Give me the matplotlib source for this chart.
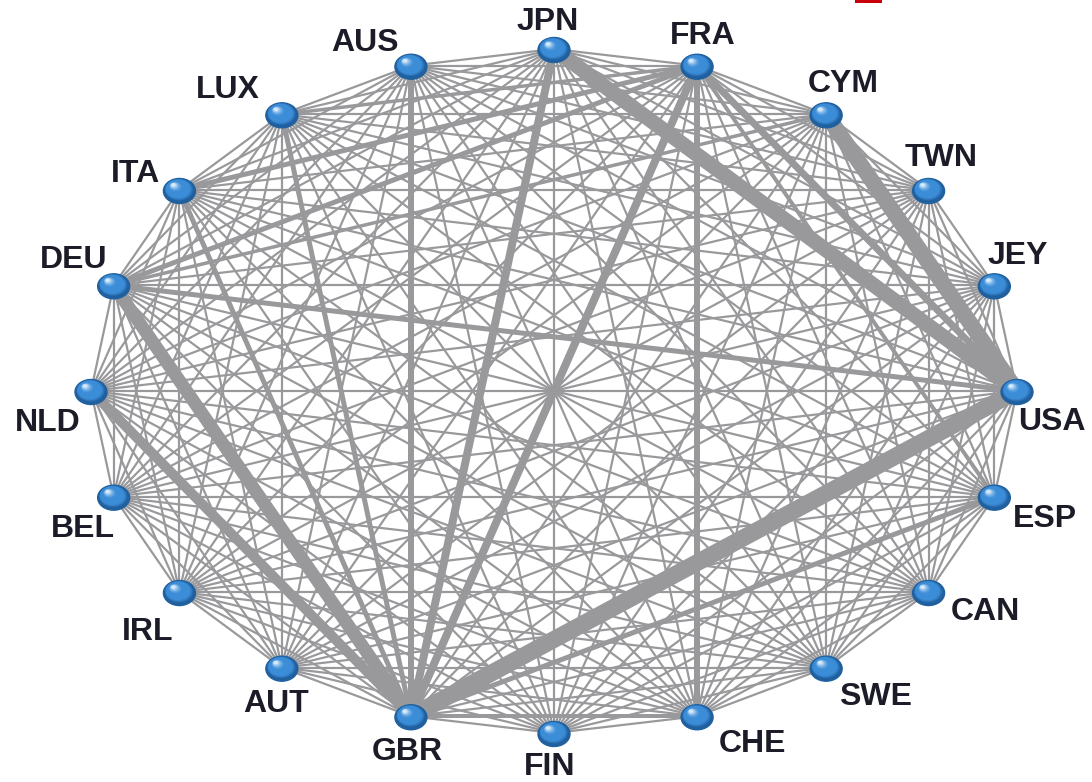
import numpy as np
import matplotlib.pyplot as plt
from matplotlib.patches import Ellipse, Rectangle
from matplotlib.colors import to_rgb

# nodes, counter-clockwise starting from the top
countries = ["JPN", "AUS", "LUX", "ITA", "DEU", "NLD", "BEL", "IRL", "AUT", "GBR",
             "FIN", "CHE", "SWE", "CAN", "ESP", "USA", "JEY", "TWN", "CYM", "FRA"]

# weighted links (edge width in px); every other pair gets the base width
heavy_links = [
    ("GBR", "USA", 17), ("JPN", "USA", 15), ("CYM", "USA", 16),
    ("GBR", "DEU", 13), ("GBR", "NLD", 10), ("GBR", "JPN", 8),
    ("GBR", "FRA", 8), ("FRA", "USA", 7), ("GBR", "AUS", 6),
    ("FRA", "CHE", 6), ("GBR", "LUX", 5), ("GBR", "ITA", 5),
    ("FRA", "ITA", 5), ("FRA", "DEU", 5), ("DEU", "USA", 5),
    ("GBR", "ESP", 5), ("GBR", "CHE", 4), ("FRA", "ESP", 4),
    ("DEU", "CYM", 3.5), ("LUX", "FRA", 3.5),
]
base_width = 2.2

# label offsets from the node centre, px
label_off = {
    "JPN": (-6, -27), "AUS": (-46, -23), "LUX": (-54, -24), "ITA": (-44, -16),
    "DEU": (-40, -25), "NLD": (-43, 32), "BEL": (-31, 32), "IRL": (-32, 40),
    "AUT": (-6, 36), "GBR": (-4, 36), "FIN": (-4, 34), "CHE": (55, 28),
    "SWE": (49, 29), "CAN": (57, 20), "ESP": (51, 22), "USA": (35, 31),
    "JEY": (23, -29), "TWN": (13, -32), "CYM": (17, -30), "FRA": (6, -30),
}

W, H = 1092, 782
fig = plt.figure(figsize=(W / 100, H / 100), dpi=100)
ax = fig.add_axes([0, 0, 1, 1])
ax.set_xlim(0, W)
ax.set_ylim(H, 0)
ax.axis("off")

# circular layout squeezed into an ellipse
cx, cy, rx, ry = 554, 391, 463, 342
ang = np.deg2rad(90 + 18 * np.arange(len(countries)))
pos = {c: (cx + rx * np.cos(a), cy - ry * np.sin(a)) for c, a in zip(countries, ang)}

px = 0.72  # px -> points at 100 dpi
edge_col = "#99999c"

weights = {frozenset((a, b)): w for a, b, w in heavy_links}
pairs = []
for i in range(len(countries)):
    for j in range(i + 1, len(countries)):
        a, b = countries[i], countries[j]
        pairs.append((weights.get(frozenset((a, b)), base_width), a, b))
pairs.sort()

for w, a, b in pairs:
    (x1, y1), (x2, y2) = pos[a], pos[b]
    ax.plot([x1, x2], [y1, y2], color=edge_col, lw=w * px,
            solid_capstyle="butt", zorder=1)

# shaded blue balls
dark = np.array(to_rgb("#20609f"))
mid = np.array(to_rgb("#3c8dd8"))
light = np.array(to_rgb("#d4e9fa"))
n_layers = 14
for c in countries:
    x, y = pos[c]
    ax.add_patch(Ellipse((x, y + 1), 32, 25, color=dark, zorder=3))
    for k in range(n_layers):
        t = k / (n_layers - 1)
        s = 1 - 0.85 * t
        if t < 0.6:
            col = dark + (mid - dark) * min(1, t / 0.2)
        else:
            col = mid + (light - mid) * ((t - 0.6) / 0.4) ** 1.5
        ax.add_patch(Ellipse((x - 6 * t, y - 5 * t), 30 * s, 23 * s,
                             color=np.clip(col, 0, 1), zorder=3 + k * 0.01, lw=0))
    dx, dy = label_off[c]
    ax.text(x + dx, y + dy, c, ha="center", va="center", fontsize=23,
            fontweight="bold", family=["Liberation Sans", "DejaVu Sans"],
            color="#1c1c28", zorder=5)

# red tab at the top edge
ax.add_patch(Rectangle((855, -6), 27, 9, color="#c8000a", zorder=6, lw=0))

fig.savefig("out.png", dpi=100)
